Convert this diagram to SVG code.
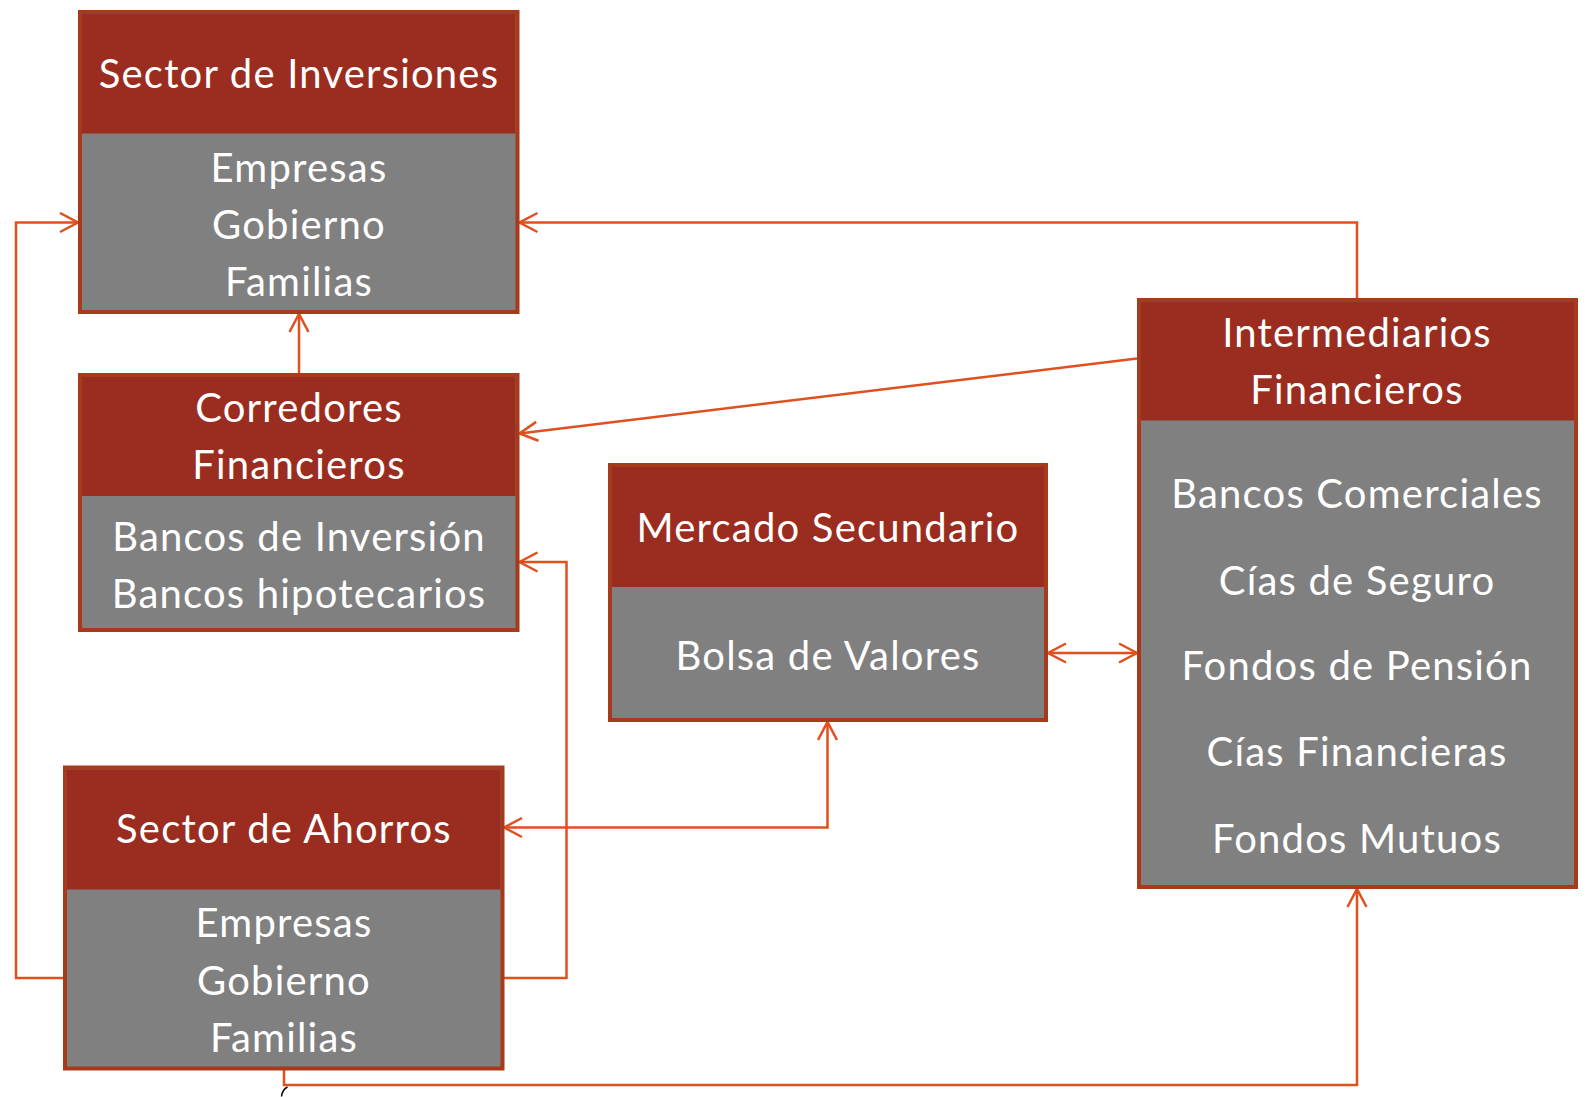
<svg xmlns="http://www.w3.org/2000/svg" width="1588" height="1097" viewBox="0 0 1588 1097">
<style>
.box{fill:#808080;stroke:#A63A1A;stroke-width:4}
.hdr{fill:#9A2D1F}
.t{font-family:Lato,"Open Sans","DejaVu Sans",sans-serif;font-size:40px;letter-spacing:1.2px;fill:#FFFFFF;text-anchor:middle}
.c{fill:none;stroke:#DF501E;stroke-width:2.5}
</style>
<defs>
<marker id="ah" markerUnits="userSpaceOnUse" markerWidth="24" markerHeight="24" refX="20" refY="11" orient="auto-start-reverse">
<path d="M2,1.5 L20,11 L2,20.5" fill="none" stroke="#DF501E" stroke-width="2.5"/>
</marker>
</defs>
<rect width="1588" height="1097" fill="#FFFFFF"/>

<g id="connectors">
<path class="c" d="M63,978 H16 V222.5 H78" marker-end="url(#ah)"/>
<path class="c" d="M299,373 V314" marker-end="url(#ah)"/>
<path class="c" d="M1357,298 V222.5 H519.5" marker-end="url(#ah)"/>
<path class="c" d="M1137,358.5 L519.5,433.5" marker-end="url(#ah)"/>
<path class="c" d="M504,978 H566.5 V562 H519.5" marker-end="url(#ah)"/>
<path class="c" d="M504,827.5 H827.5 V722" marker-start="url(#ah)" marker-end="url(#ah)"/>
<path class="c" d="M1048,653 H1137" marker-start="url(#ah)" marker-end="url(#ah)"/>
<path class="c" d="M284,1070 V1085 H1357 V889" marker-end="url(#ah)"/>
</g>

<g id="sector-inversiones">
<rect class="box" x="80" y="12" width="437.5" height="300"/>
<rect class="hdr" x="82" y="14" width="433.5" height="119.5"/>
<text class="t" x="299" y="88">Sector de Inversiones</text>
<text class="t" x="299" y="181.5">Empresas</text>
<text class="t" x="299" y="239">Gobierno</text>
<text class="t" x="299" y="296">Familias</text>
</g>

<g id="corredores-financieros">
<rect class="box" x="80" y="375" width="437.5" height="255"/>
<rect class="hdr" x="82" y="377" width="433.5" height="119"/>
<text class="t" x="299" y="421.5">Corredores</text>
<text class="t" x="299" y="479">Financieros</text>
<text class="t" x="299" y="550.5">Bancos de Inversión</text>
<text class="t" x="299" y="608">Bancos hipotecarios</text>
</g>

<g id="sector-ahorros">
<rect class="box" x="65" y="767.5" width="437.5" height="301"/>
<rect class="hdr" x="67" y="769.5" width="433.5" height="120"/>
<text class="t" x="284" y="843">Sector de Ahorros</text>
<text class="t" x="284" y="937">Empresas</text>
<text class="t" x="284" y="995">Gobierno</text>
<text class="t" x="284" y="1051.5">Familias</text>
</g>

<g id="mercado-secundario">
<rect class="box" x="610" y="465" width="436" height="255"/>
<rect class="hdr" x="612" y="467" width="432" height="120"/>
<text class="t" x="828" y="541.5">Mercado Secundario</text>
<text class="t" x="828" y="670">Bolsa de Valores</text>
</g>

<g id="intermediarios-financieros">
<rect class="box" x="1139" y="300" width="437" height="587"/>
<rect class="hdr" x="1141" y="302" width="433" height="118.5"/>
<text class="t" x="1357" y="346.5">Intermediarios</text>
<text class="t" x="1357" y="404">Financieros</text>
<text class="t" x="1357" y="507.5">Bancos Comerciales</text>
<text class="t" x="1357" y="594.5">Cías de Seguro</text>
<text class="t" x="1357" y="680">Fondos de Pensión</text>
<text class="t" x="1357" y="765.5">Cías Financieras</text>
<text class="t" x="1357" y="852.5">Fondos Mutuos</text>
</g>

<path d="M287.5,1087 Q282,1090 281.5,1096.5" fill="none" stroke="#000000" stroke-width="1.5"/>
</svg>
